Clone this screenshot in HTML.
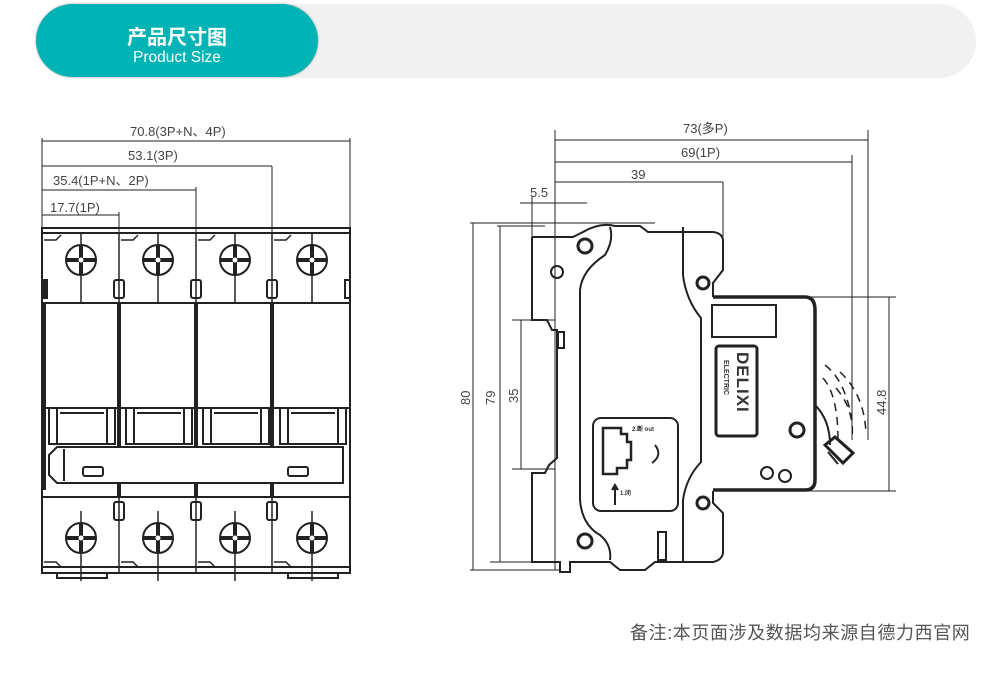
<!DOCTYPE html>
<html><head><meta charset="utf-8"><style>
html,body{margin:0;padding:0;background:#fff;width:990px;height:678px;overflow:hidden;position:relative;font-family:"Liberation Sans","Noto Sans CJK SC",sans-serif}
.bar{position:absolute;left:36px;top:4px;width:940px;height:74px;border-radius:37px;background:#f1f1f1}
.pill{position:absolute;left:36px;top:4px;width:282px;height:73px;border-radius:37px;background:#00b4b5;box-shadow:0 0 2px #999;color:#fff;text-align:center}
.pill .cn{position:absolute;left:0;right:0;top:22px;font-size:20px;font-weight:bold;line-height:24px}
.pill .en{position:absolute;left:0;right:0;top:45px;font-size:15.5px;line-height:18px}
.note{position:absolute;left:630px;top:619px;font-size:18px;letter-spacing:0.6px;color:#555;white-space:nowrap}
svg{position:absolute;left:0;top:0}
</style></head><body>
<div class="bar"></div>
<div class="pill"><div class="cn">产品尺寸图</div><div class="en">Product Size</div></div>
<svg width="990" height="678" viewBox="0 0 990 678" font-family="Liberation Sans, sans-serif" fill="none" stroke="#222">
<g stroke-width="1">
 <line x1="42" y1="141" x2="350" y2="141"/><line x1="350" y1="138" x2="350" y2="232"/>
 <line x1="42" y1="166" x2="272" y2="166"/><line x1="272" y1="166" x2="272" y2="232"/>
 <line x1="42" y1="190" x2="196" y2="190"/><line x1="196" y1="187" x2="196" y2="290"/>
 <line x1="42" y1="215" x2="119" y2="215"/><line x1="119" y1="212" x2="119" y2="290"/>
 <line x1="42" y1="138" x2="42" y2="232"/>
</g>
<g fill="#444" stroke="none" font-size="13">
 <text x="130" y="136">70.8(3P+N、4P)</text>
 <text x="128" y="160">53.1(3P)</text>
 <text x="53" y="185">35.4(1P+N、2P)</text>
 <text x="50" y="212">17.7(1P)</text>
</g>
<g stroke-width="2">
 <rect x="42" y="228" width="308" height="345"/>
 <line x1="42" y1="233" x2="350" y2="233"/>
 <line x1="42" y1="303" x2="350" y2="303"/>
 <line x1="42" y1="408" x2="350" y2="408"/>
 <line x1="42" y1="497" x2="350" y2="497"/>
 <line x1="42" y1="567" x2="350" y2="567"/>
 <path d="M57 573v5h50v-5M288 573v5h50v-5"/>
</g>
<g stroke-width="4"><line x1="119" y1="303" x2="119" y2="448"/><line x1="196" y1="303" x2="196" y2="448"/><line x1="272" y1="303" x2="272" y2="448"/><line x1="44" y1="303" x2="44" y2="490"/>
<line x1="119" y1="483" x2="119" y2="497"/><line x1="196" y1="483" x2="196" y2="497"/><line x1="272" y1="483" x2="272" y2="497"/></g>
<g stroke-width="1.5">
 <line x1="119" y1="233" x2="119" y2="303"/><line x1="196" y1="233" x2="196" y2="303"/><line x1="272" y1="233" x2="272" y2="303"/>
 <line x1="119" y1="497" x2="119" y2="573"/><line x1="196" y1="497" x2="196" y2="573"/><line x1="272" y1="497" x2="272" y2="573"/>
</g>
<g stroke-width="2">
 <g id="t"><circle cx="81" cy="260" r="15"/><line x1="81" y1="233" x2="81" y2="303" stroke-width="1.5"/><line x1="66" y1="260" x2="96" y2="260" stroke-width="4"/><line x1="81" y1="246" x2="81" y2="274" stroke-width="4"/><circle cx="81" cy="260" r="2.5" fill="#fff" stroke="none"/></g>
 <use href="#t" x="77"/><use href="#t" x="154"/><use href="#t" x="231"/>
 <use href="#t" y="278"/><use href="#t" x="77" y="278"/><use href="#t" x="154" y="278"/><use href="#t" x="231" y="278"/>
 <rect x="114" y="280" width="10" height="18" rx="2"/><rect x="191" y="280" width="10" height="18" rx="2"/><rect x="267" y="280" width="10" height="18" rx="2"/>
 <rect x="114" y="502" width="10" height="18" rx="2"/><rect x="191" y="502" width="10" height="18" rx="2"/><rect x="267" y="502" width="10" height="18" rx="2"/>
 <rect x="42" y="280" width="5" height="18" fill="#222"/><rect x="345" y="280" width="5" height="18"/>
 <path d="M44 240h12l5-5M121 240h12l5-5M198 240h12l5-5M274 240h12l5-5" stroke-width="1.5"/>
 <path d="M44 562h12l5 5M121 562h12l5 5M198 562h12l5 5M274 562h12l5 5" stroke-width="1.5"/>
 <g id="h"><rect x="49" y="408" width="8" height="36"/><rect x="57" y="408" width="50" height="36"/><line x1="60" y1="413" x2="104" y2="413"/><rect x="107" y="408" width="8" height="36"/></g>
 <use href="#h" x="77"/><use href="#h" x="154"/><use href="#h" x="231"/>
 <path d="M57 447h286v36h-286l-8-8v-20z" fill="#fff"/>
 <line x1="64" y1="449" x2="64" y2="481"/>
 <rect x="83" y="467" width="20" height="9" rx="2"/><rect x="288" y="467" width="20" height="9" rx="2"/>
</g>

<g stroke-width="1">
 <line x1="555" y1="130" x2="555" y2="570"/>
 <line x1="555" y1="140" x2="868" y2="140"/><line x1="868" y1="130" x2="868" y2="440"/>
 <line x1="555" y1="162" x2="852" y2="162"/><line x1="852" y1="155" x2="852" y2="440"/>
 <line x1="555" y1="182" x2="723" y2="182"/><line x1="723" y1="182" x2="723" y2="237"/>
 <line x1="520" y1="203" x2="587" y2="203"/><line x1="532" y1="196" x2="532" y2="237"/>
 <line x1="470" y1="223" x2="655" y2="223"/><line x1="473" y1="223" x2="473" y2="570"/>
 <line x1="497" y1="226" x2="545" y2="226"/><line x1="500" y1="226" x2="500" y2="562"/>
 <line x1="490" y1="562" x2="555" y2="562"/><line x1="470" y1="570" x2="560" y2="570"/>
 <line x1="512" y1="320" x2="555" y2="320"/><line x1="521" y1="320" x2="521" y2="469"/><line x1="512" y1="469" x2="555" y2="469"/>
 <line x1="805" y1="297" x2="896" y2="297"/><line x1="889" y1="297" x2="889" y2="491"/><line x1="805" y1="491" x2="896" y2="491"/>
</g>
<g fill="#444" stroke="none" font-size="13">
 <text x="683" y="133">73(多P)</text>
 <text x="681" y="157">69(1P)</text>
 <text x="631" y="179">39</text>
 <text x="530" y="197">5.5</text>
 <text transform="translate(470,405) rotate(-90)">80</text>
 <text transform="translate(495,405) rotate(-90)">79</text>
 <text transform="translate(518,403) rotate(-90)">35</text>
 <text transform="translate(886,415) rotate(-90)">44.8</text>
</g>
<g stroke-width="2">
 <path d="M532 237H573L583 232Q600 222 615 226L640 226L648 232H713Q722 233 723 240V270L713 283V297"/>
 <path d="M532 237V320H547L552 330H557V458L549 465L545 473H532V562H560V572H570V562H610L620 570H645L655 562H713Q722 560 723 553V513L713 503V491"/>
 <path d="M713 297H805Q815 297 815 310V480Q815 490 805 490H713" stroke-width="3.5"/>
 <path d="M610 227Q614 240 605 255Q582 270 580 290V500Q582 525 600 535Q612 545 610 560"/>
 <path d="M683 227V275Q686 300 701 318V462Q686 478 683 500V562"/>
 <rect x="712" y="305" width="64" height="32"/>
 <rect x="716" y="346" width="41" height="90" rx="3" stroke-width="3"/>
 <rect x="593" y="418" width="85" height="93" rx="8"/>
 <path d="M603 428h18v6h6v8h4v18h-4v8h-10v6h-14z" stroke-width="2.5"/>
 <line x1="615" y1="505" x2="615" y2="486"/><path d="M612 490l3-5 3 5" fill="#222"/>
 <path d="M655 445q8 10 -3 18"/>
 <circle cx="585" cy="246" r="7" stroke-width="3"/><circle cx="557" cy="272" r="6"/>
 <circle cx="703" cy="283" r="6" stroke-width="3"/><circle cx="703" cy="503" r="6" stroke-width="3"/>
 <circle cx="585" cy="541" r="7" stroke-width="3"/>
 <circle cx="797" cy="430" r="7" stroke-width="3"/><circle cx="767" cy="473" r="6"/><circle cx="785" cy="476" r="6"/>
 <rect x="658" y="532" width="8" height="28"/><rect x="558" y="332" width="6" height="16"/>
 <path d="M815 405Q830 420 830 445"/>
 <path d="M825 445l10-8 18 16-10 10z" stroke-width="3"/><path d="M828 452l10 12"/>
</g>
<g fill="#333" stroke="none">
 <text transform="translate(737,352) rotate(90)" font-size="17" font-weight="bold" letter-spacing="1">DELIXI</text>
 <text transform="translate(724,360) rotate(90)" font-size="7" font-weight="bold">ELECTRIC</text>
 <text x="632" y="431" font-size="6" font-weight="bold">2.断 out</text>
 <text x="620" y="495" font-size="6" font-weight="bold">1.闭</text>
</g>
<g stroke-width="1.5" stroke-dasharray="8 6">
 <path d="M825 365Q845 380 852 420"/><path d="M823 378Q838 395 838 440"/>
 <path d="M840 372Q865 395 866 435"/><path d="M836 388Q855 410 852 440"/>
</g>
</svg>
<div class="note">备注:本页面涉及数据均来源自德力西官网</div>
</body></html>
